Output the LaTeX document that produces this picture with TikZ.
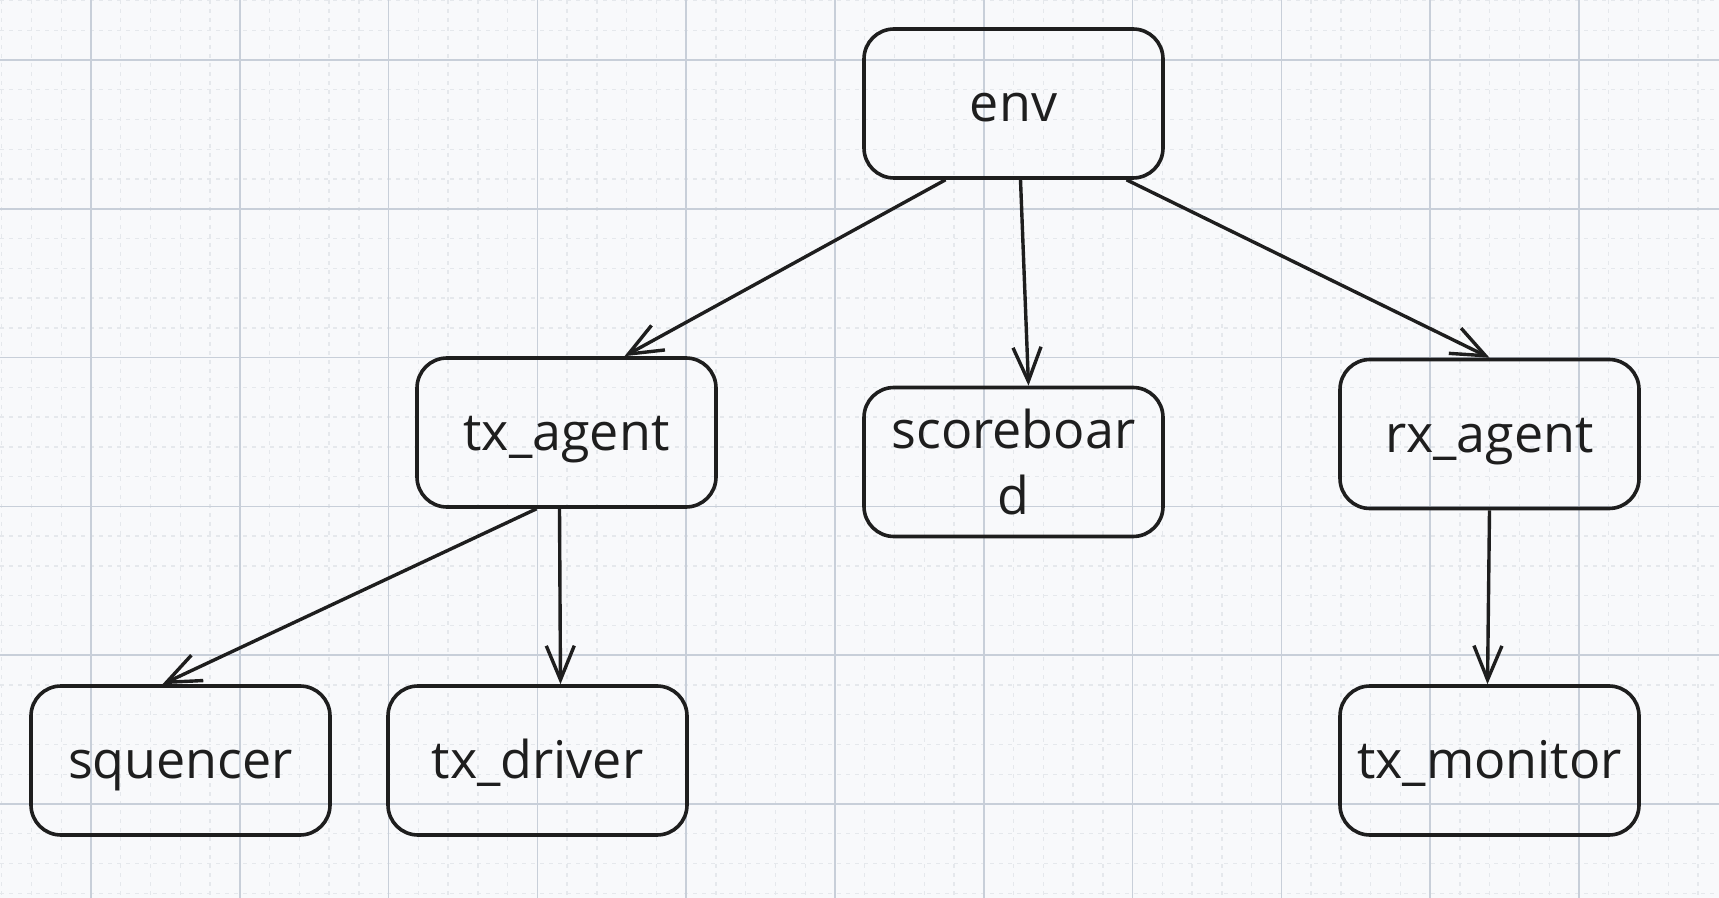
\documentclass[tikz,border=0pt]{standalone}
\usepackage{fontspec}
\setmainfont{Open Sans}
\usetikzlibrary{arrows.meta,calc}
\definecolor{bgc}{HTML}{F8F9FB}
\definecolor{majorc}{HTML}{C8CFD9}
\definecolor{minorc}{HTML}{E5E8EC}
\definecolor{ink}{HTML}{1E1E1E}
\begin{document}
\begin{tikzpicture}[x=0.5pt,y=-0.5pt,
  box/.style={draw=ink,line width=1.8pt,rounded corners=15pt,minimum width=149.5pt,minimum height=74.5pt,inner sep=0pt,font=\fontsize{26}{33}\selectfont,text=ink,align=center},
  oneline/.style={box,text height=20pt,text depth=2pt},
  conn/.style={draw=ink,line width=1.7pt,-{Straight Barb[length=17pt,width=14pt,line width=1.7pt]}}]
\fill[bgc] (0,0) rectangle (1719,898);
\useasboundingbox (0,0) rectangle (1719,898);
\foreach \i in {0,...,57} \draw[minorc,line width=0.7pt,dash pattern=on 2pt off 2.5pt] ({1.72+\i*29.76},0) -- ({1.72+\i*29.76},898);
\foreach \i in {0,...,30} \draw[minorc,line width=0.7pt,dash pattern=on 2pt off 2.5pt] (0,{0.48+\i*29.76}) -- (1719,{0.48+\i*29.76});
\foreach \i in {0,...,10} \draw[majorc,line width=0.8pt] ({91+\i*148.8},0) -- ({91+\i*148.8},898);
\foreach \i in {0,...,5} \draw[majorc,line width=0.8pt] (0,{60+\i*148.8}) -- (1719,{60+\i*148.8});

\node[oneline] (env) at (1013.5,103.5) {env};
\node[oneline] (txagent) at (566.5,432.5) {tx\_agent};
\node[box] (score) at (1013.5,462) {scoreboar\\d};
\node[oneline] (rxagent) at (1489.5,434) {rx\_agent};
\node[oneline] (seq) at (180.5,760.5) {squencer};
\node[oneline] (txdriver) at (537.5,760.5) {tx\_driver};
\node[oneline] (txmon) at (1489.5,760.5) {tx\_monitor};

\draw[conn] ($(env.south)+(-68,0)$) -- ($(txagent.north)+(58,0)$);
\draw[conn] ($(env.south)+(7,0)$) -- ($(score.north)+(15,0)$);
\draw[conn] ($(env.south)+(113,0)$) -- (rxagent.north);
\draw[conn] ($(txagent.south)+(-30,0)$) -- ($(seq.north)+(-18,0)$);
\draw[conn] ($(txagent.south)+(-7,0)$) -- ($(txdriver.north)+(23,0)$);
\draw[conn] (rxagent.south) -- ($(txmon.north)+(-2,0)$);
\end{tikzpicture}
\end{document}
